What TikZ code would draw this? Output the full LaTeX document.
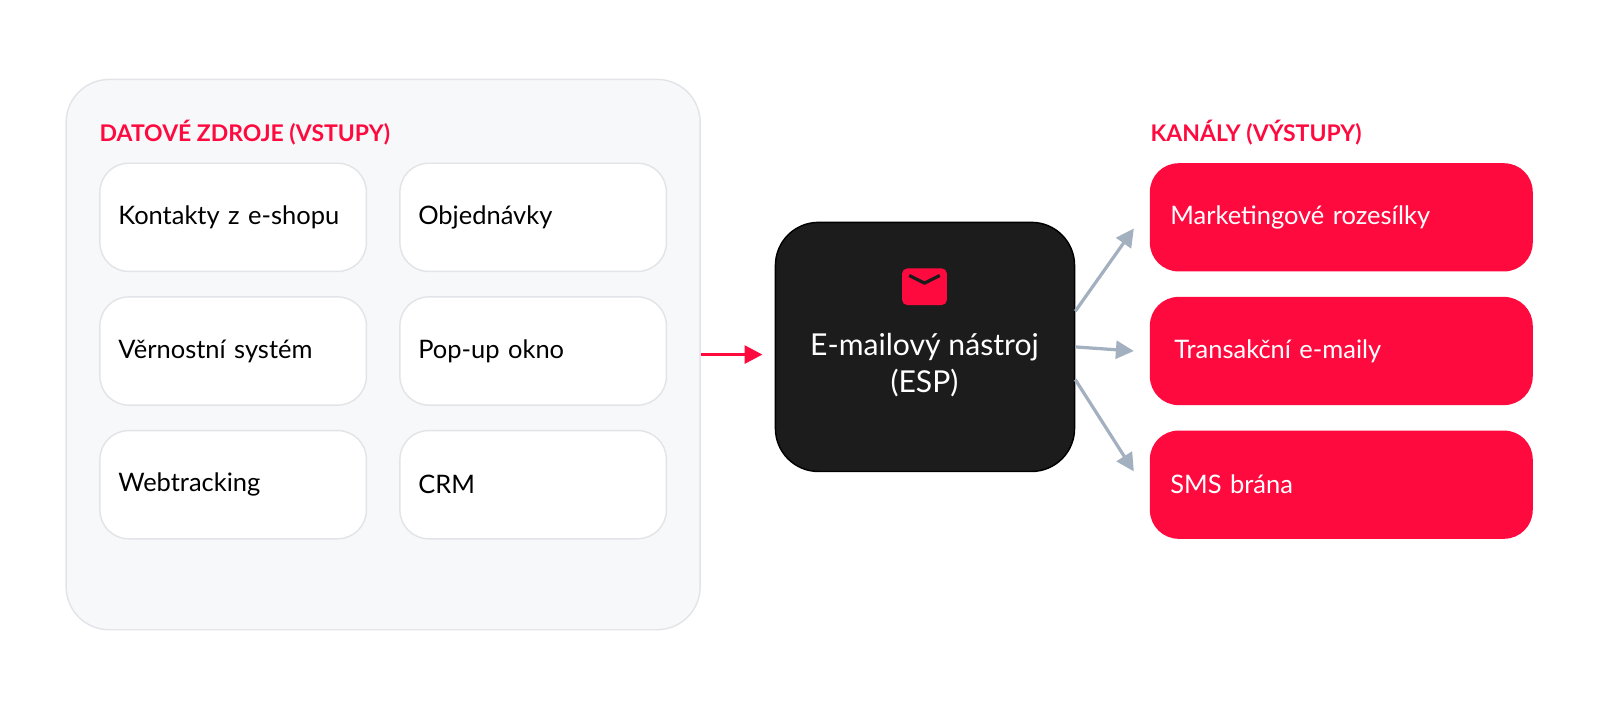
\documentclass[tikz,border=0pt]{standalone}
\usepackage{fontspec}
\setmainfont{Lato}
\usetikzlibrary{positioning,arrows.meta}
\definecolor{brandred}{HTML}{FF0A3F}
\definecolor{panelgray}{HTML}{F7F8FA}
\definecolor{linegray}{HTML}{E2E4E8}
\definecolor{espblack}{HTML}{1C1C1C}
\definecolor{arrowgray}{HTML}{A3B0C0}
\tikzset{
  src/.style={draw=linegray,fill=white,rounded corners=8pt,minimum width=2.61cm,minimum height=1.06cm,
    text width=2.25cm,align=left,font=\fontsize{7.1}{8}\selectfont,inner sep=0pt},
  channel/.style={fill=brandred,rounded corners=8pt,minimum width=3.75cm,minimum height=1.06cm,
    text width=3.35cm,align=left,text=white,font=\fontsize{7.1}{8}\selectfont,inner sep=0pt},
  head/.style={anchor=west,text=brandred,font=\bfseries\fontsize{6.4}{8}\selectfont,inner sep=0pt},
  flow/.style={-{Triangle[length=5pt,width=5pt]},line width=0.9pt,arrowgray}
}
\begin{document}
\begin{tikzpicture}[x=0.01cm,y=-0.01cm]
  % input panel
  \node[draw=linegray,fill=panelgray,rounded corners=12pt,minimum width=6.21cm,minimum height=5.39cm,
    inner sep=0pt] (panel) at (375.5,347.5) {};
  \node[head] (inhead) at (97,130) {DATOVÉ ZDROJE (VSTUPY)};
  \node[src] (eshop) at (228.5,213) {Kontakty z e-shopu};
  \node[src] (orders) at (522.5,213) {Objednávky};
  \node[src] (loyal) at (228.5,344) {Věrnostní systém};
  \node[src] (popup) at (522.5,344) {Pop-up okno};
  \node[src] (webtr) at (228.5,475) {Webtracking};
  \node[src] (crm) at (522.5,475) {CRM};
  % ESP
  \node[fill=espblack,draw=black,rounded corners=12pt,minimum width=2.93cm,minimum height=2.44cm,
    inner sep=0pt] (esp) at (906.5,340) {};
  \node[fill=brandred,rounded corners=1.5pt,minimum width=0.44cm,minimum height=0.36cm,inner sep=0pt]
    (icon) at (906,281) {};
  \draw[espblack,line width=0.9pt,line join=round]
    ([xshift=2.2pt,yshift=-2.2pt]icon.north west) -- ([yshift=1pt]icon.center) -- ([xshift=-2.2pt,yshift=-2.2pt]icon.north east);
  \node[text=white,align=center,font=\fontsize{8.4}{10.2}\selectfont,inner sep=0pt] (esplabel) at (906,358)
    {E-mailový nástroj\\(ESP)};
  % outputs
  \node[head] (outhead) at (1127,130) {KANÁLY (VÝSTUPY)};
  \node[channel] (mkt) at (1314.5,213) {Marketingové rozesílky};
  \node[channel] (trans) at (1314.5,344) {\hspace*{0.04cm}Transakční e-maily};
  \node[channel] (sms) at (1314.5,475) {SMS brána};
  % connectors
  \draw[-{Triangle[length=5pt,width=5pt]},line width=0.9pt,brandred]
    (panel.east) -- ([xshift=-0.12cm]esp.west |- panel.east);
  \draw[flow] ([yshift=0.35cm]esp.east) -- ([xshift=-0.15cm,yshift=-0.11cm]mkt.west);
  \draw[flow] (esp.east) -- ([xshift=-0.15cm]trans.west);
  \draw[flow] ([yshift=-0.32cm]esp.east) -- ([xshift=-0.15cm,yshift=0.13cm]sms.west);
  \pgfresetboundingbox
  \useasboundingbox (0,0) rectangle (1568,692);
\end{tikzpicture}
\end{document}
